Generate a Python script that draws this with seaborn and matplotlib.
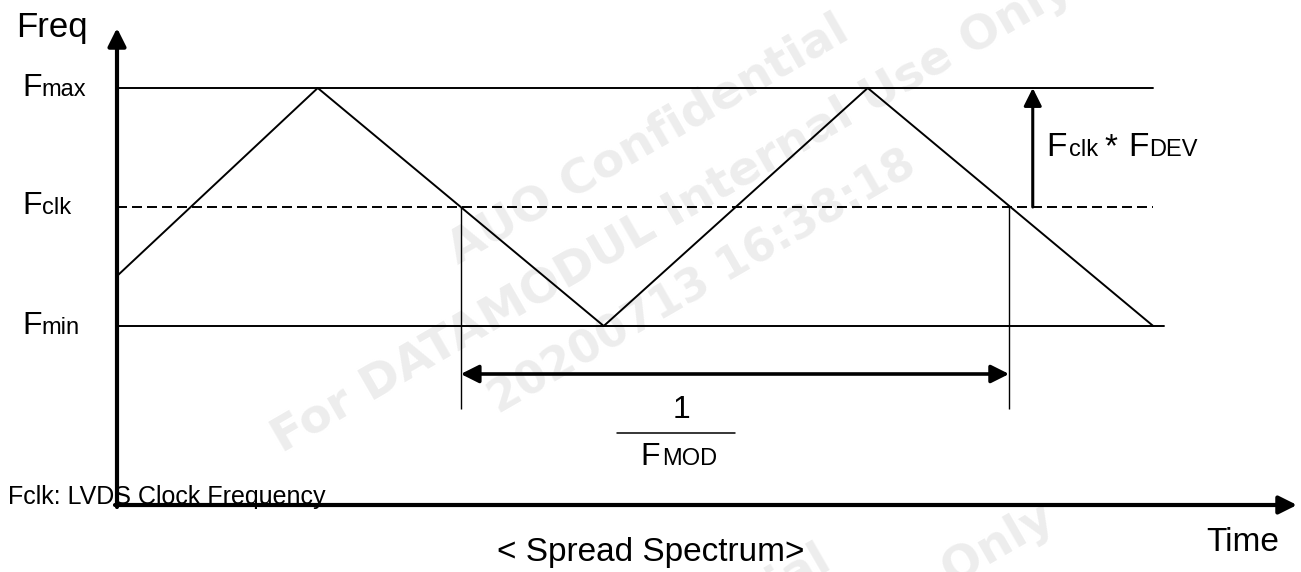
import matplotlib
matplotlib.use("Agg")
import matplotlib.pyplot as plt
import pandas as pd
import seaborn as sns

# ---------------- data (normalised units) ----------------
# time in modulation periods (1/FMOD); frequency: Fclk = 0, Fmax = +1, Fmin = -1
wave_t = [0.0, 0.365, 0.885, 1.365, 1.884]
wave_f = [-0.58, 1.0, -1.0, 1.0, -1.0]
level_subs = ["max", "clk", "min"]
level_vals = [1.0, 0.0, -1.0]
level_ends = [1.884, 1.884, 1.904]
period_marks = [0.625, 1.622]
fdev_t = 1.665
watermark_lines = ["AUO Confidential", "For DATAMODUL Internal Use Only", "20200713 16:38:18"]

# ---------------- layout helpers (pixels -> data) ----------------
W, H = 1301, 572
X0, Y0 = 117, 207          # pixel position of t = 0, f = 0
PX_T, PX_F = 550, 119      # pixels per period / per level unit


def tx(px):
    return (px - X0) / PX_T


def fy(py):
    return (Y0 - py) / PX_F


sns.set_theme(style="white")
plt.rcParams["font.family"] = ["Liberation Sans", "DejaVu Sans"]
plt.rcParams["lines.scale_dashes"] = False
plt.rcParams["text.color"] = "black"

fig = plt.figure(figsize=(W / 100, H / 100), dpi=100)
ax = fig.add_axes([0, 0, 1, 1])

# ---------------- watermark ----------------
wm_centers = [(648, 140), (672, 214), (703, 282)]
wm_sizes = [34, 34, 32]
for dx, dy in [(0, 0), (-18, 530)]:
    for txt, (cx, cy), fs in zip(watermark_lines, wm_centers, wm_sizes):
        ax.text(tx(cx + dx), fy(cy + dy), txt, fontsize=fs, fontweight="bold",
                family="DejaVu Sans", color="#ededed", rotation=30,
                rotation_mode="anchor", ha="center", va="center", zorder=0)

# ---------------- triangle wave ----------------
df = pd.DataFrame({"t": wave_t, "f": wave_f})
sns.lineplot(data=df, x="t", y="f", ax=ax, color="black", linewidth=1.4,
             sort=False, estimator=None, zorder=3)

# ---------------- reference levels ----------------
for sub, v, e in zip(level_subs, level_vals, level_ends):
    ls = (0, (7.2, 3.6)) if sub == "clk" else "-"
    ax.plot([0, e], [v, v], color="black", lw=1.4, ls=ls, zorder=2)
    base = v - 7.5 / PX_F
    ax.text(tx(22), base, "F", fontsize=23, va="baseline", ha="left")
    ax.annotate(sub, xy=(tx(22), base), xytext=(0.611 * 23, 0),
                textcoords="offset points", fontsize=17, va="baseline", ha="left")

# ---------------- axes with arrows ----------------
x_axis_f = fy(505)
head = "-|>,head_length=0.6,head_width=0.3"
ax.annotate("", xy=(0, fy(28)), xytext=(0, fy(507)),
            arrowprops=dict(arrowstyle=head, lw=3, color="black", mutation_scale=18,
                            shrinkA=0, shrinkB=0), zorder=4)
ax.annotate("", xy=(tx(1297), x_axis_f), xytext=(tx(115), x_axis_f),
            arrowprops=dict(arrowstyle=head, lw=3, color="black", mutation_scale=18,
                            shrinkA=0, shrinkB=0), zorder=4)

# ---------------- period markers and 1/FMOD arrow ----------------
ax.vlines(period_marks, fy(409), 0, color="black", lw=1.0, zorder=2)
ax.annotate("", xy=(period_marks[1], fy(374)), xytext=(period_marks[0], fy(374)),
            arrowprops=dict(arrowstyle="<|-|>,head_length=0.6,head_width=0.3", lw=2.6,
                            color="black", mutation_scale=18, shrinkA=0, shrinkB=0),
            zorder=4)
ax.text(tx(682), fy(418), "1", fontsize=23, ha="center", va="baseline")
ax.plot([tx(617), tx(735)], [fy(433), fy(433)], color="black", lw=1.1)
ax.text(tx(640), fy(465), "F", fontsize=23, ha="left", va="baseline")
ax.text(tx(662), fy(465), "MOD", fontsize=17, ha="left", va="baseline")

# ---------------- Fclk * FDEV arrow ----------------
ax.annotate("", xy=(fdev_t, 1.0), xytext=(fdev_t, 0.0),
            arrowprops=dict(arrowstyle=head, lw=2.2, color="black", mutation_scale=18,
                            shrinkA=0, shrinkB=0), zorder=4)
ax.text(tx(1046), fy(156), "F", fontsize=24, ha="left", va="baseline")
ax.text(tx(1069), fy(156), "clk", fontsize=17, ha="left", va="baseline")
ax.text(tx(1104), fy(156), "*", fontsize=24, ha="left", va="baseline")
ax.text(tx(1128), fy(156), "F", fontsize=24, ha="left", va="baseline")
ax.text(tx(1149), fy(156), "DEV", fontsize=17, ha="left", va="baseline")

# ---------------- other text ----------------
ax.text(tx(16), fy(37), "Freq", fontsize=25, ha="left", va="baseline")
ax.text(tx(1243), fy(551), "Time", fontsize=24, ha="center", va="baseline")
ax.text(tx(651), fy(561), "< Spread Spectrum>", fontsize=24, ha="center", va="baseline")
ax.text(tx(8), fy(504), "Fclk: LVDS Clock Frequency", fontsize=18, ha="left",
        va="baseline", zorder=5)

ax.set_xlim(tx(0), tx(W))
ax.set_ylim(fy(H), fy(0))
ax.axis("off")

fig.savefig("out.png", dpi=100, facecolor="white")
